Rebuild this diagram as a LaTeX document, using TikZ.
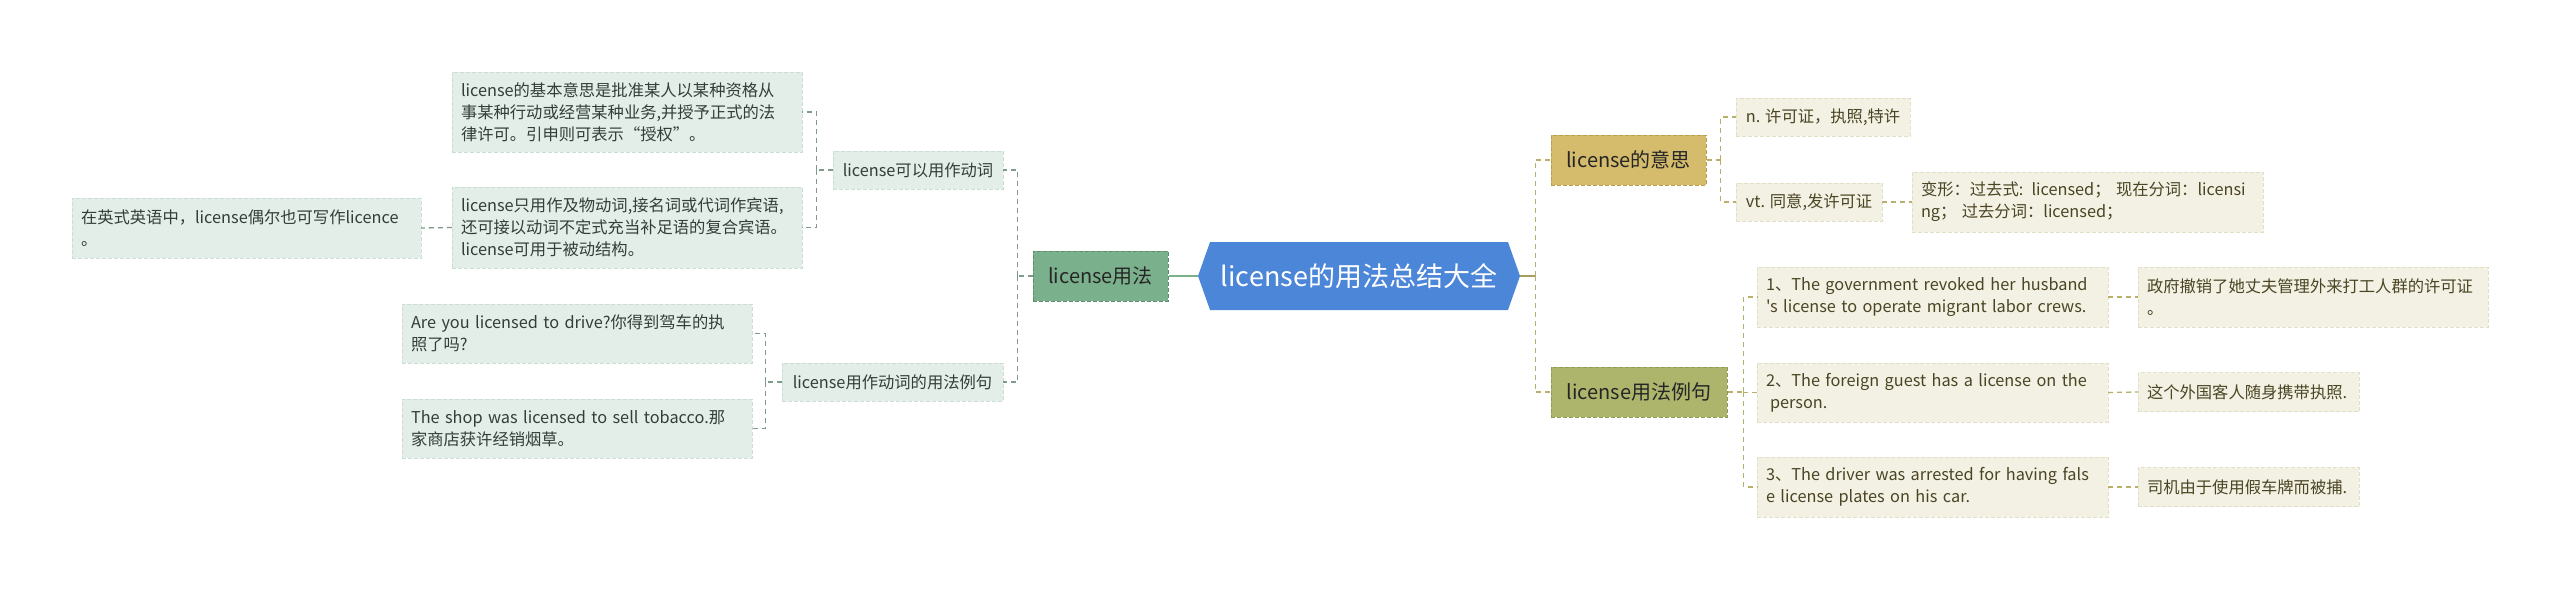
\documentclass[tikz,border=0pt]{standalone}
\usepackage{fontspec}
\setmainfont{Noto Sans CJK SC}[Ligatures=TeXOff]
\usetikzlibrary{positioning,shapes.symbols}

\definecolor{rootblue}{HTML}{4C86D9}
\definecolor{usegreen}{HTML}{7BB08C}
\definecolor{usegreenline}{HTML}{5C8E6C}
\definecolor{leafgreen}{HTML}{E3EEE8}
\definecolor{leafgreenline}{HTML}{CCDDD3}
\definecolor{leafgreentext}{HTML}{333E37}
\definecolor{linkgreen}{HTML}{7F998A}
\definecolor{meangold}{HTML}{D4BC6C}
\definecolor{meangoldline}{HTML}{B9A04F}
\definecolor{exolive}{HTML}{ADB46B}
\definecolor{exoliveline}{HTML}{939A52}
\definecolor{leafcream}{HTML}{F2F1E3}
\definecolor{leafcreamline}{HTML}{E2DFC6}
\definecolor{leafcreamtext}{HTML}{4B4524}
\definecolor{linkolive}{HTML}{B8B06A}

\begin{document}
\begin{tikzpicture}[x=1pt, y=-1pt,
  root/.style={shape=signal, signal to=east and west, signal pointer angle=141, fill=rootblue, text=white,
    minimum width=322pt, minimum height=68pt, inner sep=0pt, font=\fontsize{27pt}{32pt}\selectfont},
  topic/.style={draw, dashed, dash pattern=on 4pt off 2pt, line width=1pt, text=black!85,
    minimum height=50pt, inner sep=0pt, font=\fontsize{20pt}{24pt}\selectfont},
  leafL/.style={draw=leafgreenline, dashed, dash pattern=on 4pt off 2pt, fill=leafgreen, text=leafgreentext,
    align=left, inner xsep=9pt, inner ysep=2pt, minimum height=38pt, font=\fontsize{16.3pt}{22pt}\selectfont},
  leafR/.style={leafL, draw=leafcreamline, fill=leafcream, text=leafcreamtext},
  linkL/.style={draw=linkgreen, line width=1.3pt, dash pattern=on 5pt off 4pt},
  linkR/.style={draw=linkolive, line width=1.3pt, dash pattern=on 5pt off 4pt},
  rootlink/.style={line width=2.2pt}
]
\useasboundingbox[fill=white] (0,0) rectangle (2560,589);

% centre
\node[root] (root) at (1359,276) {license的用法总结大全};

% left branch
\node[topic, fill=usegreen, draw=usegreenline, minimum width=135pt] (usage) at (1100.5,276) {license用法};
\node[leafL, minimum width=170pt] (verb) at (918,170) {license可以用作动词};
\node[leafL, minimum width=221pt] (verbex) at (892.5,382) {license用作动词的用法例句};
\node[leafL, text width=332pt, minimum height=80pt] (basic) at (627,112)
  {license的基本意思是批准某人以某种资格从\\事某种行动或经营某种业务,并授予正式的法\\律许可。引申则可表示“授权”。};
\node[leafL, text width=332pt, minimum height=81pt] (trans) at (627,227.5)
  {license只用作及物动词,接名词或代词作宾语,\\还可接以动词不定式充当补足语的复合宾语。\\license可用于被动结构。};
\node[leafL, text width=331pt, minimum height=60pt] (british) at (246.5,228)
  {在英式英语中，license偶尔也可写作licence\\。};
\node[leafL, text width=332pt, minimum height=59pt] (drive) at (577,333.5)
  {Are you licensed to drive?你得到驾车的执\\照了吗?};
\node[leafL, text width=332pt, minimum height=59pt] (shop) at (577,428.5)
  {The shop was licensed to sell tobacco.那\\家商店获许经销烟草。};

% right branch
\node[topic, fill=meangold, draw=meangoldline, minimum width=155pt] (meaning) at (1628.5,160) {license的意思};
\node[topic, fill=exolive, draw=exoliveline, minimum width=176pt] (examples) at (1639,392) {license用法例句};
\node[leafR, minimum width=174pt] (noun) at (1823,117) {n. 许可证，执照,特许};
\node[leafR, minimum width=146pt] (vt) at (1809,202) {vt. 同意,发许可证};
\node[leafR, text width=333pt, minimum height=60pt] (forms) at (2087.5,202)
  {变形：过去式: licensed； 现在分词：licensi\\ng； 过去分词：licensed；};
\node[leafR, text width=333pt, minimum height=60pt] (exone) at (1932.5,297)
  {1、The government revoked her husband\\'s license to operate migrant labor crews.};
\node[leafR, text width=333pt, minimum height=59pt] (extwo) at (1932.5,392.5)
  {2、The foreign guest has a license on the\\\hspace*{0.25em}person.};
\node[leafR, text width=333pt, minimum height=60pt] (exthree) at (1932.5,487)
  {3、The driver was arrested for having fals\\e license plates on his car.};
\node[leafR, text width=332pt, minimum height=60pt] (zhone) at (2313,297)
  {政府撤销了她丈夫管理外来打工人群的许可证\\。};
\node[leafR, text width=203pt, minimum height=39pt] (zhtwo) at (2248.5,392) {这个外国客人随身携带执照.};
\node[leafR, text width=203pt, minimum height=39pt] (zhthree) at (2248.5,487) {司机由于使用假车牌而被捕.};

% left connectors
\draw[rootlink, draw=usegreen] (root.west) -- (usage.east);
\draw[linkL] (usage.west) -- ++(-15,0) coordinate (usagebus);
\draw[linkL] (usagebus) |- (verb.east);
\draw[linkL] (usagebus) |- (verbex.east);
\draw[linkL] (verb.west) -- ++(-16,0) coordinate (verbbus);
\draw[linkL] (verbbus) |- (basic.east);
\draw[linkL] (verbbus) |- (trans.east);
\draw[linkL] (trans.west) -- (british.east);
\draw[linkL] (verbex.west) -- ++(-16,0) coordinate (verbexbus);
\draw[linkL] (verbexbus) |- (drive.east);
\draw[linkL] (verbexbus) |- (shop.east);

% right connectors
\draw[rootlink, draw=linkolive!90!black] (root.east) -- ++(15,0) coordinate (rootbus);
\draw[linkR] (rootbus) |- (meaning.west);
\draw[linkR] (rootbus) |- (examples.west);
\draw[linkR] (meaning.east) -- ++(14,0) coordinate (meaningbus);
\draw[linkR] (meaningbus) |- (noun.west);
\draw[linkR] (meaningbus) |- (vt.west);
\draw[linkR] (vt.east) -- (forms.west);
\draw[linkR] (examples.east) -- ++(16,0) coordinate (examplesbus);
\draw[linkR] (examplesbus) |- (exone.west);
\draw[linkR] (examplesbus) |- (extwo.west);
\draw[linkR] (examplesbus) |- (exthree.west);
\draw[linkR] (exone.east) -- (zhone.west);
\draw[linkR] (extwo.east) -- (zhtwo.west);
\draw[linkR] (exthree.east) -- (zhthree.west);
\end{tikzpicture}
\end{document}
